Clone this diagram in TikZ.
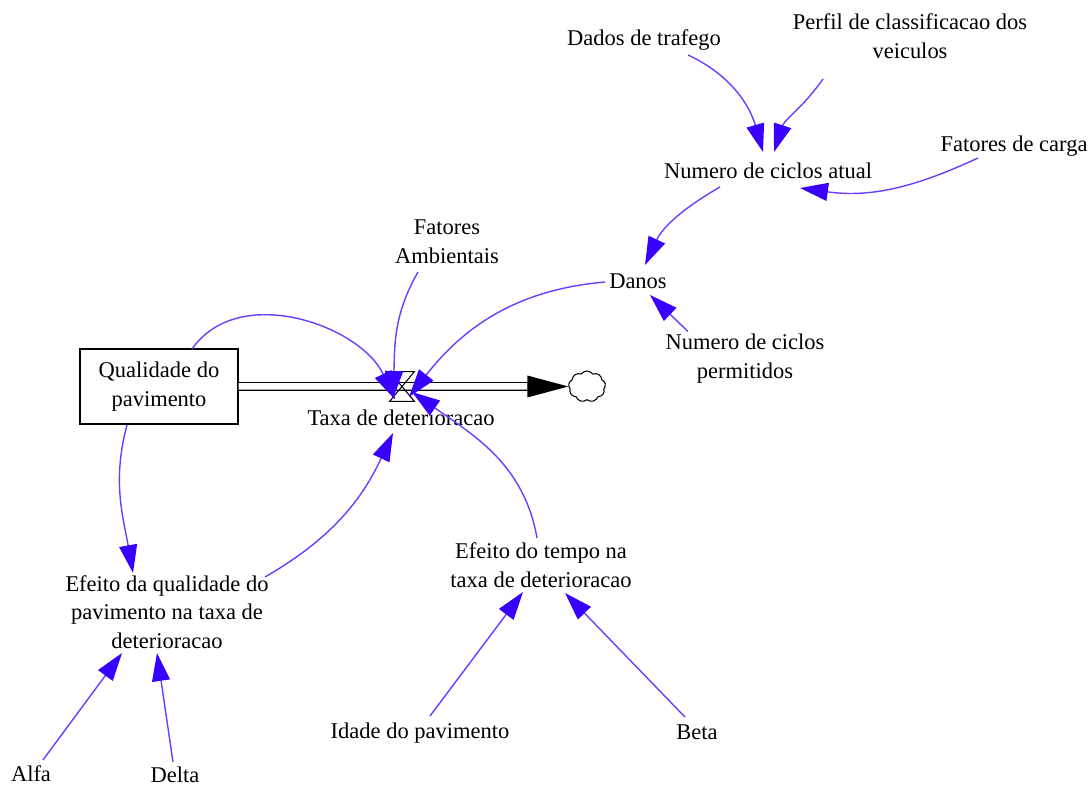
\documentclass[tikz,border=0pt]{standalone}
\usepackage{fontspec}
\setmainfont{Liberation Serif}
\usepackage{xcolor}
\usetikzlibrary{arrows.meta, shapes.symbols}

\definecolor{linkblue}{RGB}{108,62,255}
\definecolor{headblue}{RGB}{58,0,255}

\begin{document}
\begin{tikzpicture}[
    every node/.style={font=\fontsize{12.8}{16.3}\selectfont, inner sep=1pt},
    var/.style={align=center},
    stock/.style={draw, rectangle, minimum width=3.16cm, minimum height=1.5cm, align=center, line width=0.8pt},
    valvebox/.style={rectangle, minimum width=0.48cm, minimum height=0.58cm, inner sep=0pt},
    cloudsink/.style={draw, cloud, cloud puffs=9, cloud puff arc=110, aspect=1.2, minimum width=0.74cm, minimum height=0.62cm, inner sep=0pt, line width=0.6pt, fill=white},
    pipe/.style={double, double distance=0.13cm, line width=0.7pt},
    arrow/.style={-{Triangle[length=0.56cm, width=0.36cm, color=headblue]}, draw=linkblue, line width=0.8pt}
]
    \useasboundingbox (0,0) rectangle (21.82,15.7);

    % Variáveis do carregamento
    \node (dados) [var] at (12.88,14.90) {Dados de trafego};
    \node (perfil) [var] at (18.20,14.98) {Perfil de classificacao dos\\veiculos};
    \node (carga) [var] at (20.28,12.78) {Fatores de carga};
    \node (numatual) [var] at (15.36,12.28) {Numero de ciclos atual};
    \node (danos) [var] at (12.76,10.08) {Danos};
    \node (permit) [var] at (14.90,8.53) {Numero de ciclos\\permitidos};
    \node (ambient) [var] at (8.94,10.86) {Fatores\\Ambientais};

    % Estoque, válvula e nuvem
    \node (qual) [stock] at (3.18,7.97) {Qualidade do\\pavimento};
    \node (valve) [valvebox] at (8.04,7.97) {};
    \node (taxa) [var] at (8.02,7.34) {Taxa de deterioracao};
    \node (nuvem) [cloudsink] at (11.74,7.97) {};

    % Efeitos e parâmetros
    \node (eftempo) [var] at (10.82,4.40) {Efeito do tempo na\\taxa de deterioracao};
    \node (efqual) [var] at (3.34,3.46) {Efeito da qualidade do\\pavimento na taxa de\\deterioracao};
    \node (idade) [var] at (8.40,1.04) {Idade do pavimento};
    \node (beta) [var] at (13.94,1.06) {Beta};
    \node (alfa) [var] at (0.62,0.22) {Alfa};
    \node (delta) [var] at (3.50,0.20) {Delta};

    % Fluxo
    \draw [pipe, shorten >=0.82cm] (qual.east) -- (nuvem.west);
    \fill (nuvem.west) -- ++(-0.82,0.22) -- ++(0,-0.44) -- cycle;
    \draw [line width=0.6pt] (valve.north west) -- (valve.north east) -- (valve.south west) -- (valve.south east) -- cycle;

    % Ligações
    \draw [arrow] ([shift={(0.88,-0.30)}]dados.center) to[out=-25, in=106] ([shift={(-0.10,0.38)}]numatual.center);
    \draw [arrow] ([shift={(-1.74,-0.86)}]perfil.center) to[out=-125, in=72] ([shift={(0.12,0.38)}]numatual.center);
    \draw [arrow] ([shift={(-0.72,-0.24)}]carga.center) to[out=-155, in=-8] ([shift={(0.64,-0.34)}]numatual.center);
    \draw [arrow] ([shift={(-0.96,-0.32)}]numatual.center) to[out=-150, in=65] ([shift={(0.14,0.32)}]danos.center);
    \draw [arrow] ([shift={(-1.14,0.54)}]permit.center) -- ([shift={(0.24,-0.28)}]danos.center);
    \draw [arrow] ([shift={(-0.66,-0.02)}]danos.center) to[out=185, in=52] ([shift={(0.14,-0.21)}]valve.center);
    \draw [arrow] ([shift={(-0.58,-0.60)}]ambient.center) to[out=-120, in=88] ([shift={(-0.18,-0.25)}]valve.center);
    \draw [arrow] ([shift={(0.66,0.75)}]qual.center) to[out=55, in=115] ([shift={(-0.14,-0.26)}]valve.center);
    \draw [arrow] ([shift={(-0.08,0.54)}]eftempo.center) to[out=100, in=-35] ([shift={(0.20,-0.11)}]valve.center);
    \draw [arrow] ([shift={(1.96,0.70)}]efqual.center) to[out=30, in=-115] ([shift={(-0.16,-0.30)}]taxa.center);
    \draw [arrow] ([shift={(-0.64,-0.77)}]qual.center) to[out=-105, in=100] ([shift={(-0.68,0.78)}]efqual.center);
    \draw [arrow] ([shift={(0.20,0.34)}]idade.center) -- ([shift={(-0.36,-0.54)}]eftempo.center);
    \draw [arrow] ([shift={(-0.24,0.30)}]beta.center) -- ([shift={(0.48,-0.56)}]eftempo.center);
    \draw [arrow] ([shift={(0.24,0.28)}]alfa.center) -- ([shift={(-0.90,-0.82)}]efqual.center);
    \draw [arrow] ([shift={(-0.04,0.26)}]delta.center) -- ([shift={(-0.20,-0.82)}]efqual.center);

\end{tikzpicture}
\end{document}
